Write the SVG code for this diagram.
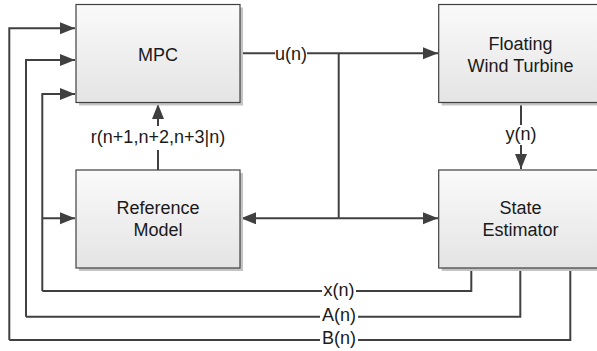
<svg xmlns="http://www.w3.org/2000/svg" width="597" height="351" viewBox="0 0 597 351">
<defs>
<linearGradient id="g" x1="0" y1="0" x2="0" y2="1">
<stop offset="0" stop-color="#fafafa"/>
<stop offset="1" stop-color="#e4e4e4"/>
</linearGradient>
<marker id="ah" markerUnits="userSpaceOnUse" markerWidth="16" markerHeight="14" refX="15" refY="6" orient="auto">
<path d="M0,0 L15,6 L0,12 Z" fill="#404040"/>
</marker>
<style>
.box{fill:url(#g);stroke:#404040;stroke-width:1.2}
.sh{fill:#c4c4c4}
.t{font-family:"Liberation Sans",Arial,sans-serif;font-size:18px;fill:#1a1a1a;text-anchor:middle}
.c{fill:none;stroke:#404040;stroke-width:2}
.a{marker-end:url(#ah)}
.bg{fill:#ffffff}
</style>
</defs>
<g id="connectors">
<path class="c a" d="M9.3,340 V28.3 H75"/>
<path class="c a" d="M26,316.7 V60 H75"/>
<path class="c a" d="M42.3,291 V94 H75"/>
<path class="c a" d="M42.3,218.3 H75"/>
<path class="c" d="M240,53.3 H275"/>
<path class="c a" d="M307,53.3 H438"/>
<path class="c" d="M338.7,53.3 V218.3"/>
<path class="c a" d="M338.7,218.3 H241"/>
<path class="c a" d="M338.7,218.3 H438"/>
<path class="c a" d="M158,170 V104"/>
<path class="c a" d="M521,103 V169"/>
<path class="c" d="M471.3,268 V291 H42.3"/>
<path class="c" d="M520.3,268 V316.7 H26"/>
<path class="c" d="M570.3,268 V340 H9.3"/>
<rect class="bg" x="86" y="126" width="144" height="24"/>
<rect class="bg" x="509" y="125" width="24" height="20"/>
<rect class="bg" x="322" y="282" width="34" height="18"/>
<rect class="bg" x="320" y="308" width="38" height="18"/>
<rect class="bg" x="320" y="331" width="38" height="18"/>
<text class="t" x="291" y="59.5">u(n)</text>
<text class="t" x="158" y="143">r(n+1,n+2,n+3|n)</text>
<text class="t" x="521" y="139.5">y(n)</text>
<text class="t" x="339" y="295.5">x(n)</text>
<text class="t" x="339" y="320.5">A(n)</text>
<text class="t" x="339" y="344">B(n)</text>
</g>
<g id="mpc">
<rect class="sh" x="79" y="7.5" width="164" height="98"/>
<rect class="box" x="76" y="4.5" width="164" height="98"/>
<text class="t" x="158" y="60.5">MPC</text>
</g>
<g id="turbine">
<rect class="sh" x="441.7" y="7.5" width="164" height="98"/>
<rect class="box" x="438.7" y="4.5" width="164" height="98"/>
<text class="t" x="520.5" y="50">Floating</text>
<text class="t" x="520.5" y="71.5">Wind Turbine</text>
</g>
<g id="reference">
<rect class="sh" x="79" y="173" width="164" height="98"/>
<rect class="box" x="76" y="170" width="164" height="98"/>
<text class="t" x="158" y="213.5">Reference</text>
<text class="t" x="158" y="236">Model</text>
</g>
<g id="estimator">
<rect class="sh" x="441.7" y="173" width="164" height="98"/>
<rect class="box" x="438.7" y="170" width="164" height="98"/>
<text class="t" x="520.5" y="213.5">State</text>
<text class="t" x="520.5" y="236">Estimator</text>
</g>
</svg>
